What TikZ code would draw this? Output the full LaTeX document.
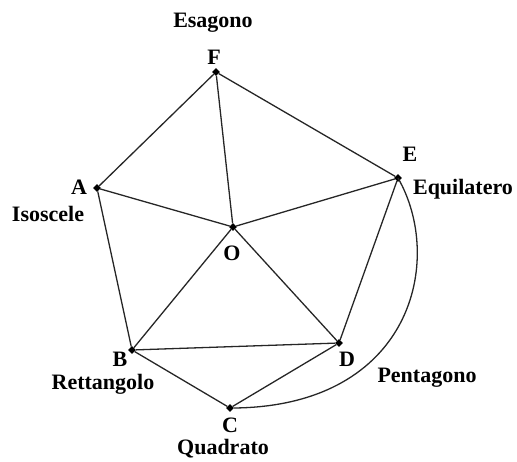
\documentclass[tikz,border=0pt]{standalone}
\usepackage{fontspec}
\setmainfont{Liberation Serif}
\usetikzlibrary{shapes.geometric}
\begin{document}
\begin{tikzpicture}[x=1pt,y=-1pt,
  pt/.style={diamond,fill=black,inner sep=0pt,minimum size=8pt},
  lbl/.style={font=\fontsize{22}{22}\selectfont\bfseries,inner sep=0pt},
  edge/.style={line width=1.3pt,draw=black!85}]
\useasboundingbox (0,0) rectangle (517,461);
\node[pt] (F) at (216,72) {};
\node[pt] (A) at (97,188) {};
\node[pt] (E) at (398,178) {};
\node[pt] (O) at (233,227) {};
\node[pt] (B) at (132,350) {};
\node[pt] (D) at (339,343) {};
\node[pt] (C) at (230,408) {};
\draw[edge] (F) -- (A);
\draw[edge] (F) -- (O);
\draw[edge] (F) -- (E);
\draw[edge] (A) -- (O);
\draw[edge] (A) -- (B);
\draw[edge] (E) -- (O);
\draw[edge] (E) -- (D);
\draw[edge] (O) -- (B);
\draw[edge] (O) -- (D);
\draw[edge] (B) -- (D);
\draw[edge] (B) -- (C);
\draw[edge] (C) -- (D);
\draw[edge] (E.center) .. controls (445,260) and (412,406) .. (C.east);
\node[lbl] (lEsa) at (213,23) {Esagono};
\node[lbl] (lF) at (214,57) {F};
\node[lbl] (lA) at (79,187) {A};
\node[lbl] (lIso) at (48,214) {Isoscele};
\node[lbl] (lE) at (410,154) {E};
\node[lbl] (lEqu) at (463,189) {Equilatero};
\node[lbl] (lB) at (120,359) {B};
\node[lbl] (lRet) at (103,384) {Rettangolo};
\node[lbl] (lD) at (347,359) {D};
\node[lbl] (lPen) at (427,378) {Pentagono};
\node[lbl] (lC) at (230,425) {C};
\node[lbl] (lQua) at (223,449) {Quadrato};
\node[lbl] (lO) at (232,253) {O};
\end{tikzpicture}
\end{document}
